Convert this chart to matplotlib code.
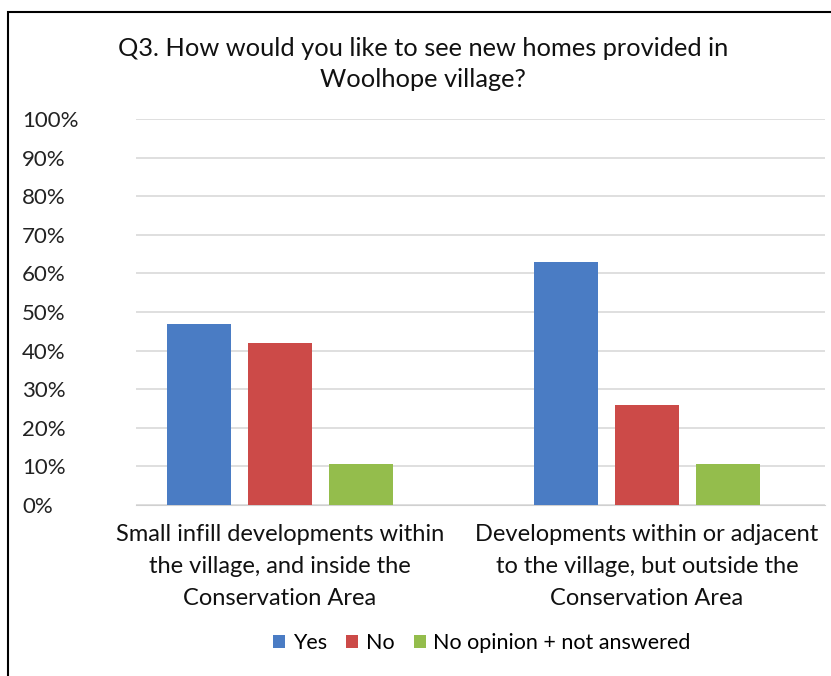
import matplotlib.pyplot as plt
from matplotlib.patches import Rectangle
from matplotlib.ticker import PercentFormatter

plt.rcParams['font.family'] = ['Lato', 'DejaVu Sans']

categories = ["Small infill developments within\nthe village, and inside the\nConservation Area",
              "Developments within or adjacent\nto the village, but outside the\nConservation Area"]
series = ["Yes", "No", "No opinion + not answered"]
yes = [46.9, 63.0]
no = [42.0, 25.8]
no_opinion = [10.6, 10.6]
colors = ["#4A7CC4", "#CC4A48", "#94BD4C"]

fig = plt.figure(figsize=(8.31, 6.76), dpi=100)
ax = fig.add_axes([136 / 831, 171 / 676, 689 / 831, 386 / 676])

width = 0.174
offset = 0.221
x = [0, 1]
for k, (vals, c, name) in enumerate(zip([yes, no, no_opinion], colors, series)):
    ax.bar([xi + (k - 1) * offset for xi in x], vals, width, color=c, label=name, zorder=3)

ax.set_xlim(-0.392, 1.485)
ax.set_ylim(0, 100)
ax.set_yticks(range(0, 101, 10))
ax.yaxis.set_major_formatter(PercentFormatter(decimals=0))
ax.grid(axis='y', color='#d9d9d9', linewidth=1.2, zorder=0)
for s in ['top', 'right', 'left']:
    ax.spines[s].set_visible(False)
ax.spines['bottom'].set_color('#d0d0d0')
ax.tick_params(axis='y', length=0, labelsize=16, pad=82, colors='#222222')
ax.set_yticklabels([f"{v}%" for v in range(0, 101, 10)], ha='left')
ax.set_xticks(x)
ax.set_xticklabels(categories, fontsize=17, linespacing=1.62)
ax.tick_params(axis='x', length=0, pad=14, colors='#111111')

fig.text(423 / 831, 1 - 64 / 676, "Q3. How would you like to see new homes provided in\nWoolhope village?",
         ha='center', va='center', fontsize=18.3, linespacing=1.45, color='#111111')

fig.legend(loc='center', bbox_to_anchor=(482 / 831, 1 - 643 / 676), ncol=3, frameon=False,
           fontsize=15.5, handlelength=0.55, handleheight=0.55, handletextpad=0.35, columnspacing=0.9)

# outer frame around the chart
fig.patches.append(Rectangle((8 / 831, -0.05), 1.0, 1 - 12 / 676 + 0.05, transform=fig.transFigure,
                             fill=False, edgecolor='black', linewidth=1.5))

fig.savefig("out.png", dpi=100)
